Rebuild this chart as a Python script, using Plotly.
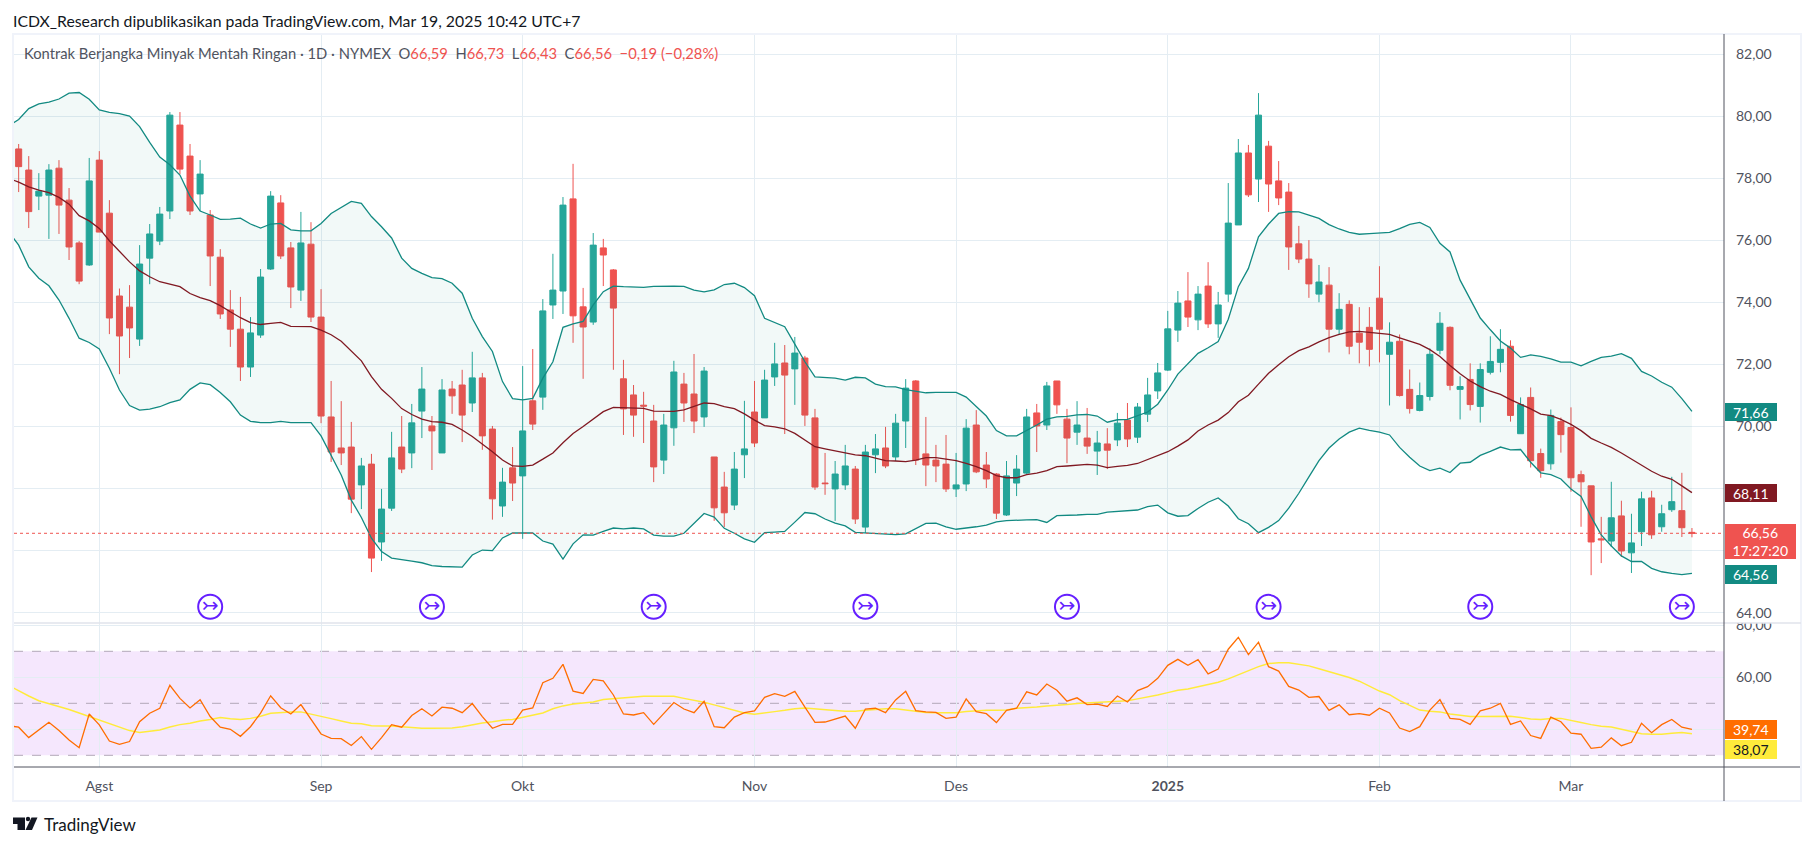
import plotly.graph_objects as go

W = 1814
H = 846
FONT = 'Lato'

# bar positions of the month labels
month_idx = [8, 30, 50, 73, 93, 114, 135, 154]
month_text = ['Agst', 'Sep', 'Okt', 'Nov', 'Des', '<b>2025</b>', 'Feb', 'Mar']

opens = [78.95, 78.27, 77.43, 77.46, 78.33, 77.30, 75.92, 75.21, 78.59, 76.88,
         74.21, 73.85, 72.82, 75.43, 75.98, 76.95, 79.72, 78.72, 77.50, 76.82,
         75.46, 73.76, 73.14, 71.92, 72.95, 75.08, 77.21, 75.76, 74.40, 75.88,
         73.53, 70.31, 69.31, 69.34, 68.12, 68.79, 66.28, 67.37, 69.34, 69.15,
         70.50, 70.02, 69.15, 71.21, 71.34, 70.76, 71.57, 69.92, 67.44, 68.67,
         68.41, 70.83, 70.95, 73.92, 74.37, 77.34, 73.86, 73.37, 75.76, 75.05,
         71.54, 71.02, 70.69, 70.18, 68.92, 69.96, 71.37, 71.05, 70.31, 69.02,
         68.05, 67.47, 69.09, 70.47, 70.28, 71.60, 72.05, 71.86, 72.21, 70.28,
         68.18, 67.99, 68.12, 68.63, 66.76, 69.09, 69.31, 69.02, 70.18, 71.47,
         69.12, 68.92, 68.79, 67.99, 68.15, 70.05, 68.76, 68.47, 67.15, 68.18,
         68.50, 70.44, 70.05, 71.47, 70.24, 69.82, 69.63, 69.21, 69.44, 69.57,
         70.21, 69.66, 70.40, 71.15, 71.82, 73.11, 74.05, 73.44, 74.53, 73.31,
         74.27, 76.50, 78.82, 77.98, 79.04, 77.92, 77.56, 75.89, 75.40, 74.27,
         74.56, 73.14, 73.94, 73.01, 73.20, 74.14, 72.33, 72.75, 71.20, 70.52,
         70.97, 72.46, 73.20, 71.20, 71.52, 70.65, 71.75, 72.07, 72.59, 69.77,
         70.94, 69.13, 68.80, 70.16, 69.97, 68.45, 68.09, 66.38, 66.31, 67.12,
         65.93, 66.61, 67.70, 66.77, 67.32, 67.29, 66.59]
closes = [78.38, 76.93, 77.59, 78.27, 77.14, 75.79, 74.69, 77.92, 76.27, 73.50,
          72.92, 73.18, 75.24, 76.21, 76.85, 80.04, 78.30, 76.95, 78.14, 75.50,
          73.63, 73.14, 71.92, 73.02, 74.82, 77.43, 75.50, 74.50, 75.92, 73.53,
          70.34, 69.18, 69.15, 67.66, 68.73, 65.76, 67.34, 68.99, 68.63, 70.12,
          71.21, 69.86, 71.18, 70.99, 70.37, 71.57, 69.70, 67.67, 68.21, 68.18,
          69.86, 70.08, 73.73, 74.40, 77.14, 73.57, 73.21, 75.85, 75.53, 73.82,
          70.57, 70.37, 70.66, 68.70, 70.05, 71.76, 70.76, 70.18, 71.79, 67.38,
          67.22, 68.63, 69.28, 69.47, 71.50, 72.02, 71.66, 72.37, 70.37, 68.05,
          68.16, 68.47, 68.73, 67.02, 69.18, 69.28, 68.73, 70.11, 71.24, 68.92,
          68.76, 68.73, 67.99, 68.12, 69.95, 68.54, 68.31, 67.21, 68.41, 68.63,
          70.31, 70.02, 71.31, 70.70, 69.63, 70.05, 69.37, 69.47, 69.24, 70.11,
          69.60, 70.63, 71.02, 71.73, 73.15, 73.98, 73.53, 74.27, 73.31, 73.92,
          76.56, 78.82, 77.47, 80.04, 77.82, 77.37, 75.79, 75.40, 74.60, 74.66,
          73.14, 73.78, 72.59, 72.72, 72.49, 73.14, 72.72, 71.00, 70.58, 71.00,
          72.33, 73.33, 71.33, 71.29, 70.71, 71.84, 72.10, 72.49, 70.36, 70.71,
          68.90, 68.58, 70.36, 69.74, 68.35, 68.22, 66.28, 66.35, 67.06, 65.99,
          66.25, 67.67, 66.51, 67.19, 67.58, 66.74, 66.56]
highs = [79.11, 78.72, 78.17, 78.46, 78.59, 77.69, 75.98, 78.66, 78.88, 77.30,
         74.45, 74.56, 75.85, 76.53, 77.08, 80.14, 80.14, 79.11, 78.59, 76.98,
         75.72, 74.40, 74.18, 73.53, 75.08, 77.59, 77.46, 75.95, 76.92, 76.59,
         74.43, 71.47, 70.82, 70.15, 68.99, 69.12, 67.99, 69.83, 70.34, 70.73,
         71.92, 70.34, 71.53, 71.47, 71.83, 72.41, 71.73, 70.02, 68.67, 69.34,
         71.95, 72.50, 74.11, 75.57, 77.40, 78.47, 74.47, 76.24, 76.05, 75.08,
         72.15, 71.34, 71.12, 70.70, 70.41, 72.12, 71.73, 72.34, 71.92, 69.02,
         68.54, 69.18, 70.83, 71.47, 71.83, 72.70, 72.63, 72.89, 72.28, 70.57,
         69.15, 68.89, 69.41, 68.73, 69.41, 69.76, 69.99, 70.41, 71.53, 71.50,
         70.31, 69.41, 69.73, 69.15, 70.24, 70.53, 69.18, 68.50, 68.89, 69.08,
         70.57, 70.73, 71.44, 71.47, 70.57, 70.82, 70.60, 69.86, 69.95, 70.44,
         70.76, 70.76, 71.57, 72.05, 73.73, 74.37, 74.98, 74.53, 75.30, 74.34,
         77.85, 79.27, 79.08, 80.75, 79.21, 78.56, 77.85, 76.47, 76.01, 75.21,
         75.14, 74.30, 74.07, 73.85, 73.85, 75.17, 73.36, 72.97, 71.84, 71.42,
         72.52, 73.69, 73.23, 71.62, 72.04, 72.04, 72.91, 73.14, 72.78, 70.94,
         71.26, 69.29, 70.55, 70.29, 70.62, 68.58, 68.09, 67.09, 68.22, 67.61,
         67.19, 67.90, 67.93, 67.48, 68.38, 68.51, 66.73]
lows = [77.56, 76.40, 76.98, 76.05, 76.21, 75.37, 74.59, 75.18, 76.27, 72.98,
        71.69, 72.21, 72.60, 74.59, 75.85, 76.69, 78.14, 76.82, 76.95, 74.53,
        73.47, 72.57, 71.47, 71.60, 72.86, 75.05, 75.40, 73.82, 74.05, 73.37,
        70.11, 68.86, 68.76, 67.21, 67.34, 65.31, 65.67, 67.28, 68.50, 68.66,
        69.63, 68.60, 69.15, 70.41, 69.50, 70.47, 69.25, 67.00, 67.09, 67.60,
        66.38, 69.89, 70.54, 73.47, 73.63, 72.70, 71.54, 73.28, 74.53, 71.83,
        69.73, 69.67, 69.47, 68.21, 68.47, 69.38, 70.15, 69.79, 69.99, 66.96,
        66.76, 67.31, 68.34, 69.34, 70.28, 71.31, 69.76, 70.70, 70.02, 67.96,
        67.80, 66.96, 67.96, 66.86, 66.57, 68.50, 68.66, 68.89, 69.31, 68.76,
        68.08, 68.21, 67.89, 67.73, 67.92, 68.50, 68.02, 67.02, 67.12, 67.76,
        68.47, 69.18, 69.89, 70.41, 68.82, 69.41, 69.12, 68.44, 68.63, 69.37,
        69.34, 69.47, 70.15, 70.89, 71.79, 72.73, 73.21, 73.11, 73.18, 72.86,
        74.02, 76.50, 77.40, 77.24, 76.92, 77.14, 75.05, 75.27, 74.15, 74.01,
        72.39, 72.97, 72.33, 72.04, 71.94, 72.07, 70.68, 70.97, 70.42, 70.49,
        70.84, 72.33, 71.17, 70.23, 70.52, 70.13, 71.68, 71.75, 70.16, 69.77,
        68.68, 68.35, 68.61, 69.16, 67.90, 66.77, 65.21, 65.60, 66.12, 65.80,
        65.28, 66.15, 66.38, 66.61, 67.25, 66.44, 66.43]

# the indicators start one bar before the first visible candle
bb_upper = [79.69, 79.90, 80.25, 80.40, 80.46, 80.56, 80.75, 80.77, 80.55, 80.21, 80.13,
            80.09, 80.01, 79.67, 79.16, 78.69, 78.44, 78.11, 77.43, 76.95, 76.82,
            76.68, 76.69, 76.72, 76.53, 76.40, 76.53, 76.55, 76.34, 76.31, 76.31,
            76.55, 76.87, 77.07, 77.26, 77.20, 76.77, 76.44, 76.08, 75.43, 75.10,
            74.94, 74.80, 74.77, 74.62, 74.30, 73.49, 72.90, 72.42, 71.45, 70.90,
            70.86, 70.91, 71.56, 72.09, 73.20, 73.31, 73.39, 73.92, 74.35, 74.53,
            74.51, 74.50, 74.49, 74.52, 74.53, 74.53, 74.52, 74.40, 74.34, 74.41,
            74.58, 74.62, 74.48, 74.22, 73.49, 73.35, 73.22, 72.66, 72.09, 71.60,
            71.59, 71.56, 71.50, 71.59, 71.57, 71.37, 71.29, 71.28, 71.19, 71.15,
            71.09, 71.10, 71.11, 71.10, 70.95, 70.66, 70.34, 69.87, 69.70, 69.70,
            69.87, 70.05, 70.24, 70.31, 70.33, 70.38, 70.39, 70.34, 70.14, 70.22,
            70.23, 70.34, 70.47, 70.72, 71.18, 71.69, 72.04, 72.36, 72.54, 72.74,
            73.46, 74.51, 75.10, 76.12, 76.53, 76.87, 76.93, 76.92, 76.82, 76.71,
            76.51, 76.37, 76.26, 76.20, 76.22, 76.24, 76.26, 76.38, 76.52, 76.58,
            76.42, 75.91, 75.63, 74.72, 74.13, 73.50, 73.12, 72.76, 72.53, 72.23,
            72.31, 72.26, 72.18, 72.08, 72.08, 71.96, 72.10, 72.23, 72.27, 72.35,
            72.20, 71.78, 71.63, 71.43, 71.27, 70.90, 70.49]
bb_lower = [76.28, 75.85, 75.15, 74.78, 74.54, 74.08, 73.49, 72.85, 72.71, 72.50, 71.88,
            71.18, 70.68, 70.53, 70.56, 70.64, 70.77, 70.86, 71.20, 71.41, 71.35,
            71.10, 70.80, 70.37, 70.17, 70.13, 70.13, 70.17, 70.13, 70.13, 70.13,
            69.70, 69.08, 68.44, 67.63, 67.07, 66.40, 65.97, 65.76, 65.70, 65.66,
            65.61, 65.52, 65.49, 65.47, 65.47, 65.86, 66.02, 66.00, 66.41, 66.57,
            66.57, 66.57, 66.31, 66.21, 65.73, 66.22, 66.51, 66.50, 66.62, 66.73,
            66.70, 66.73, 66.70, 66.50, 66.47, 66.47, 66.56, 66.88, 67.20, 67.08,
            66.72, 66.56, 66.38, 66.27, 66.58, 66.60, 66.62, 66.92, 67.23, 67.19,
            67.02, 66.89, 66.80, 66.59, 66.57, 66.54, 66.52, 66.52, 66.54, 66.71,
            66.88, 66.89, 66.77, 66.69, 66.72, 66.77, 66.82, 66.93, 66.97, 66.99,
            66.99, 67.00, 66.91, 67.13, 67.13, 67.15, 67.17, 67.17, 67.24, 67.26,
            67.29, 67.31, 67.42, 67.47, 67.22, 67.11, 67.13, 67.36, 67.56, 67.70,
            67.44, 67.03, 66.87, 66.58, 66.75, 66.97, 67.37, 67.85, 68.38, 68.90,
            69.31, 69.60, 69.82, 69.95, 69.88, 69.82, 69.73, 69.33, 69.01, 68.73,
            68.58, 68.66, 68.52, 68.82, 68.85, 69.07, 69.20, 69.34, 69.25, 69.26,
            68.85, 68.51, 68.45, 68.31, 67.99, 67.75, 67.09, 66.51, 66.15, 65.83,
            65.65, 65.65, 65.43, 65.32, 65.27, 65.23, 65.27]
bb_basis = [78.00, 77.88, 77.73, 77.62, 77.54, 77.39, 77.17, 76.80, 76.63, 76.39, 75.99,
            75.64, 75.31, 75.02, 74.83, 74.67, 74.60, 74.51, 74.29, 74.16, 74.06,
            73.90, 73.70, 73.51, 73.35, 73.29, 73.33, 73.36, 73.23, 73.22, 73.22,
            73.11, 72.96, 72.75, 72.44, 72.12, 71.61, 71.20, 70.91, 70.58, 70.39,
            70.24, 70.16, 70.14, 70.07, 69.89, 69.68, 69.44, 69.19, 68.92, 68.73,
            68.72, 68.76, 68.95, 69.15, 69.48, 69.78, 70.00, 70.24, 70.48, 70.62,
            70.61, 70.60, 70.59, 70.50, 70.49, 70.49, 70.54, 70.64, 70.76, 70.74,
            70.64, 70.58, 70.41, 70.21, 70.03, 69.99, 69.93, 69.78, 69.57, 69.35,
            69.28, 69.21, 69.14, 69.09, 69.06, 68.98, 68.90, 68.89, 68.87, 68.92,
            69.00, 69.00, 68.94, 68.90, 68.81, 68.71, 68.58, 68.42, 68.35, 68.35,
            68.45, 68.50, 68.58, 68.71, 68.73, 68.76, 68.78, 68.76, 68.68, 68.72,
            68.75, 68.81, 68.94, 69.07, 69.19, 69.37, 69.57, 69.86, 70.05, 70.21,
            70.45, 70.80, 71.01, 71.37, 71.72, 71.99, 72.25, 72.45, 72.57, 72.73,
            72.87, 72.97, 73.05, 73.07, 73.04, 73.01, 72.97, 72.86, 72.76, 72.65,
            72.48, 72.26, 71.97, 71.70, 71.47, 71.29, 71.14, 71.04, 70.87, 70.73,
            70.57, 70.40, 70.35, 70.23, 70.07, 69.87, 69.62, 69.47, 69.33, 69.15,
            68.95, 68.74, 68.56, 68.40, 68.30, 68.09, 67.87]

rsi = [41.4, 40.8, 36.8, 39.7, 42.7, 39.5, 35.9, 32.9, 45.9, 41.7, 35.5,
       34.2, 35.3, 42.9, 46.2, 48.1, 56.9, 51.9, 48.2, 51.4, 44.9,
       40.8, 40.0, 37.3, 41.0, 46.2, 52.9, 48.3, 45.9, 49.5, 43.6,
       38.2, 36.5, 36.4, 33.8, 37.2, 32.3, 36.8, 41.8, 40.8, 45.3,
       47.9, 45.1, 48.5, 48.1, 46.4, 49.9, 44.9, 40.4, 41.9, 41.9,
       47.4, 48.2, 57.9, 59.6, 65.0, 54.7, 53.8, 59.2, 58.6, 53.2,
       45.9, 45.5, 46.4, 41.9, 45.9, 50.3, 47.8, 46.4, 50.8, 41.0,
       40.6, 44.7, 46.4, 47.1, 52.3, 53.7, 52.7, 54.6, 48.5, 42.7,
       42.8, 44.1, 45.1, 40.4, 47.8, 48.1, 46.4, 51.3, 54.6, 47.2,
       46.7, 46.5, 44.2, 44.7, 51.7, 46.8, 46.0, 42.6, 47.3, 48.1,
       54.4, 53.2, 57.4, 55.0, 50.8, 52.1, 49.5, 49.7, 48.8, 52.8,
       50.5, 54.9, 56.4, 59.6, 64.6, 66.9, 64.6, 66.8, 61.3, 63.2,
       70.8, 75.4, 68.7, 73.5, 64.1, 62.4, 56.5, 55.1, 52.3, 52.6,
       47.3, 49.4, 45.6, 46.0, 45.4, 48.1, 46.3, 40.5, 39.1, 41.0,
       47.4, 51.4, 44.2, 43.8, 41.9, 47.1, 48.1, 50.0, 41.9, 43.2,
       37.6, 36.5, 44.7, 42.9, 38.5, 38.1, 32.7, 33.1, 36.7, 33.7,
       35.0, 42.3, 38.7, 41.8, 43.8, 40.8, 40.0]
rsi_ma = [56.9, 54.7, 52.8, 51.0, 49.9, 48.7, 47.6, 46.3, 44.9, 43.6, 42.1,
          40.9, 39.5, 38.8, 39.2, 39.7, 40.9, 41.8, 42.3, 43.2, 43.8,
          44.5, 44.1, 43.8, 44.2, 45.0, 46.2, 46.5, 46.7, 46.7, 45.9,
          44.9, 44.1, 43.2, 42.3, 42.1, 41.4, 41.3, 41.3, 41.0, 40.6,
          40.4, 40.4, 40.4, 40.5, 41.0, 41.8, 42.4, 42.9, 43.5, 43.8,
          44.6, 45.3, 46.3, 47.9, 49.0, 49.7, 50.1, 50.5, 51.5, 51.8,
          51.9, 52.3, 52.7, 52.7, 52.6, 52.7, 51.9, 51.2, 50.4, 49.4,
          48.3, 47.2, 46.3, 45.8, 46.2, 46.8, 47.3, 47.9, 48.2, 47.8,
          47.4, 47.2, 46.9, 46.9, 47.3, 47.7, 47.9, 47.9, 47.4, 46.9,
          46.5, 46.4, 46.4, 46.4, 46.8, 47.1, 47.3, 47.3, 47.4, 48.1,
          48.3, 48.6, 49.0, 49.2, 49.5, 49.9, 50.1, 50.4, 50.5, 50.6,
          51.0, 51.7, 52.4, 53.2, 54.1, 55.0, 55.5, 56.4, 57.3, 58.1,
          59.4, 61.0, 62.6, 64.1, 65.3, 65.6, 65.6, 65.1, 64.4, 63.3,
          62.2, 61.0, 59.9, 58.5, 56.7, 54.7, 53.3, 51.0, 49.2, 47.4,
          46.9, 46.7, 45.9, 45.3, 44.9, 44.9, 45.0, 45.1, 45.0, 44.5,
          44.0, 43.8, 44.2, 44.2, 43.5, 42.6, 41.8, 41.2, 40.9, 40.0,
          39.0, 38.3, 38.1, 38.1, 38.5, 38.8, 38.3]

# contract rollover markers along the bottom of the price pane
rollover_idx = [19, 41, 63, 84, 104, 124, 145, 165]
rollover_y = [64.19] * len(rollover_idx)

last_close = 66.56
rsi_dashed = [70, 50, 30]
price_ticks = [64, 66, 68, 70, 72, 74, 76, 78, 80, 82]
rsi_ticks = [40, 60, 80]

TEAL = '#128a82'
RED = '#ef5350'
GREEN = '#26a69a'
GRID = '#e4edf3'
TEXT = '#50535e'
AXIS = '#50535e'
FRAME = '#f0f3fa'
PURPLE = '#651fff'


def px_x(x):
    return x / W


def px_y(y):
    return 1 - y / H


def bar_to_axis(px):
    # one bar is 10.08 px wide, bar 0 sits at px 18.66
    return (px - 18.66) / 10.08


def price_to_axis(y):
    return 64 + (612.7 - y) / 31.02


def rsi_to_axis(y):
    return 40 + (729.3 - y) / 2.6


bars = list(range(len(closes)))
ind_bars = list(range(-1, len(closes)))

fig = go.Figure()

# Bollinger bands first so the candles end up on top
fig.add_trace(go.Scatter(x=ind_bars, y=bb_upper, mode='lines', line=dict(color=TEAL, width=1.3),
                         xaxis='x', yaxis='y'))
fig.add_trace(go.Scatter(x=ind_bars, y=bb_lower, mode='lines', line=dict(color=TEAL, width=1.3),
                         fill='tonexty', fillcolor='rgba(0,137,123,0.05)', xaxis='x', yaxis='y'))
fig.add_trace(go.Scatter(x=ind_bars, y=bb_basis, mode='lines', line=dict(color='#801922', width=1.3),
                         xaxis='x', yaxis='y'))

fig.add_trace(go.Candlestick(
    x=bars, open=opens, high=highs, low=lows, close=closes,
    increasing=dict(line=dict(color=GREEN, width=1), fillcolor=GREEN),
    decreasing=dict(line=dict(color=RED, width=1), fillcolor=RED),
    whiskerwidth=0, xaxis='x', yaxis='y'
))

fig.add_trace(go.Scatter(
    x=rollover_idx, y=rollover_y, mode='markers+text', text=['↣'] * len(rollover_idx),
    textposition='middle center', textfont=dict(family='DejaVu Sans', size=20, color=PURPLE),
    marker=dict(symbol='circle-open', size=24, line=dict(color=PURPLE, width=2), color=PURPLE),
    xaxis='x', yaxis='y'
))

# RSI pane
fig.add_trace(go.Scatter(x=ind_bars, y=rsi_ma, mode='lines', line=dict(color='#ffeb3b', width=1.5),
                         xaxis='x2', yaxis='y2'))
fig.add_trace(go.Scatter(x=ind_bars, y=rsi, mode='lines', line=dict(color='#ff6d00', width=1.3),
                         xaxis='x2', yaxis='y2'))

shapes = [
    # last price line
    dict(type='line', xref='paper', yref='y', x0=px_x(14), x1=px_x(1724), y0=last_close, y1=last_close,
         line=dict(color=RED, width=1, dash='dot'), layer='above'),
    # RSI channel
    dict(type='rect', xref='paper', yref='y2', x0=px_x(14), x1=px_x(1724), y0=rsi_dashed[2], y1=rsi_dashed[0],
         fillcolor='rgba(170,60,240,0.12)', line=dict(width=0), layer='below'),
    # frame and pane separators
    dict(type='rect', xref='paper', yref='paper', x0=px_x(13), x1=px_x(1801), y0=px_y(34), y1=px_y(801),
         line=dict(color=FRAME, width=2), layer='above'),
    dict(type='rect', xref='paper', yref='paper', x0=px_x(1726), x1=px_x(1800), y0=px_y(619), y1=px_y(623),
         fillcolor='white', line=dict(width=0), layer='above'),
    dict(type='line', xref='paper', yref='paper', x0=px_x(14), x1=px_x(1801), y0=px_y(623), y1=px_y(623),
         line=dict(color='#e0e3eb', width=1.5), layer='above'),
    dict(type='line', xref='paper', yref='paper', x0=px_x(14), x1=px_x(1800), y0=px_y(767), y1=px_y(767),
         line=dict(color=AXIS, width=1), layer='above'),
    dict(type='line', xref='paper', yref='paper', x0=px_x(1724), x1=px_x(1724), y0=px_y(34), y1=px_y(801),
         line=dict(color=AXIS, width=1), layer='above'),
]
for val in rsi_dashed:
    shapes.append(dict(type='line', xref='paper', yref='y2', x0=px_x(14), x1=px_x(1724), y0=val, y1=val,
                       line=dict(color='#b2a8b8', width=1, dash='dash'), layer='below'))


def logo_path(points):
    return 'M ' + ' L '.join(f'{px_x(x):.5f},{px_y(y):.5f}' for x, y in points) + ' Z'


# TradingView mark
for pts in ([(13, 817.5), (25, 817.5), (25, 830), (17.5, 830), (17.5, 824), (13, 824)],
            [(31.5, 817.5), (37.5, 817.5), (32, 830), (25.5, 830)]):
    shapes.append(dict(type='path', xref='paper', yref='paper', path=logo_path(pts),
                       fillcolor='#131722', line=dict(width=0)))
shapes.append(dict(type='circle', xref='paper', yref='paper', x0=px_x(25.8), x1=px_x(30.2), y0=px_y(816.8),
                   y1=px_y(821.2), fillcolor='#131722', line=dict(width=0)))


def note(text, x, y, size, color, **kwargs):
    return dict(text=text, xref='paper', yref='paper', x=px_x(x), y=px_y(y), xanchor='left', yanchor='middle',
                showarrow=False, align='left', font=dict(family=FONT, size=size, color=color), **kwargs)


def badge(text, y0, y1, right, bg, color='white'):
    return dict(text=text, xref='paper', yref='paper', x=px_x(1724.5), y=px_y(y0), xanchor='left', yanchor='top',
                width=right - 1724.5, height=y1 - y0, bgcolor=bg, borderpad=0, borderwidth=0, showarrow=False,
                align='center', valign='middle', font=dict(family=FONT, size=14, color=color))


red_span = f'<span style="color:{RED}">'
legend_text = (f'Kontrak Berjangka Minyak Mentah Ringan · 1D · NYMEX  O{red_span}66,59</span>  '
               f'H{red_span}66,73</span>  L{red_span}66,43</span>  C{red_span}66,56</span>  '
               f'{red_span}−0,19 (−0,28%)</span>')

annotations = [
    note('ICDX_Research dipublikasikan pada TradingView.com, Mar 19, 2025 10:42 UTC+7', 11, 20, 15.8, '#131722'),
    note(legend_text, 22, 53, 14.75, TEXT),
    note('TradingView', 42, 824, 17, '#131722'),
    badge('71,66', 403, 421, 1776, TEAL),
    badge('68,11', 484, 502, 1776, '#801922'),
    badge('66,56<br>17:27:20', 524, 558.5, 1795, RED),
    badge('64,56', 565, 583.5, 1776, TEAL),
    badge('39,74', 720, 739, 1776, '#ff6d00'),
    badge('38,07', 740, 759, 1776, '#ffeb3b', '#131722'),
]

x_range = [bar_to_axis(14), bar_to_axis(1724)]

fig.update_layout(
    template='none',
    width=W, height=H,
    margin=dict(l=0, r=0, t=0, b=0),
    paper_bgcolor='white', plot_bgcolor='white',
    showlegend=False,
    separators=',.',
    boxgap=0.4,
    boxgroupgap=0,
    font=dict(family=FONT, size=14, color=TEXT),
    shapes=shapes, annotations=annotations,
    xaxis=dict(domain=[px_x(14), px_x(1724)], range=x_range, anchor='y', rangeslider=dict(visible=False),
               tickmode='array', tickvals=month_idx, ticktext=month_text, showticklabels=False, automargin=False,
               showgrid=True, gridcolor=GRID, gridwidth=1, zeroline=False, ticks=''),
    xaxis2=dict(domain=[px_x(14), px_x(1724)], range=x_range, anchor='y2', matches='x', automargin=False,
                tickmode='array', tickvals=month_idx, ticktext=month_text, showgrid=True, gridcolor=GRID,
                gridwidth=1, zeroline=False, ticks='', ticklabelstandoff=9,
                tickfont=dict(family=FONT, size=14, color=TEXT)),
    yaxis=dict(domain=[px_y(623), px_y(34)], range=[price_to_axis(623), price_to_axis(34)], anchor='x', side='right',
               tickmode='array', tickvals=price_ticks, tickformat='.2f', showgrid=True, gridcolor=GRID, automargin=False,
               gridwidth=1, zeroline=False, ticks='', ticklabelstandoff=11,
               tickfont=dict(family=FONT, size=14, color=TEXT)),
    yaxis2=dict(domain=[px_y(767), px_y(623)], range=[rsi_to_axis(767), rsi_to_axis(623)], anchor='x2', side='right',
                tickmode='array', tickvals=rsi_ticks, tickformat='.2f', showgrid=True, gridcolor=GRID, automargin=False,
                gridwidth=1, zeroline=False, ticks='', ticklabelstandoff=11,
                tickfont=dict(family=FONT, size=14, color=TEXT)),
)

# pin the plot to the window corner so page margins do not shift it
fig.write_html("out.html", config={'displayModeBar': False},
               post_script="document.body.style.margin='0';"
               "var d=document.getElementById('{plot_id}');"
               "d.style.position='fixed';d.style.left='0';d.style.top='0';")
